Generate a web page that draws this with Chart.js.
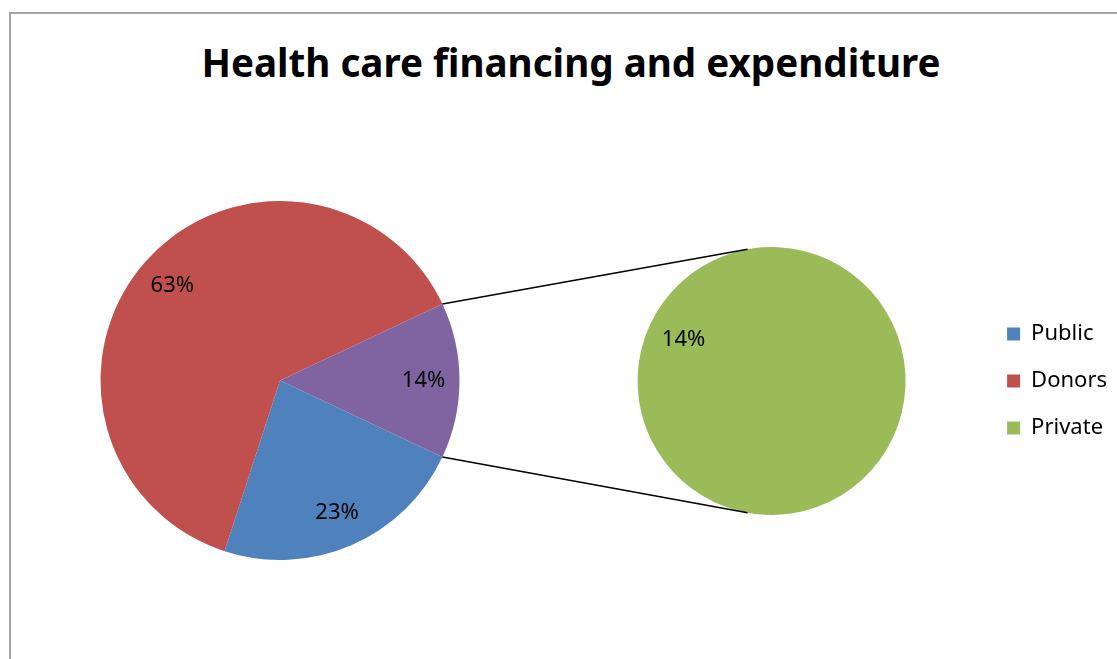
<!DOCTYPE html>
<html>
<head>
<meta charset="utf-8">
<title>Health care financing and expenditure</title>
<script src="https://cdn.jsdelivr.net/npm/chart.js@4.4.0/dist/chart.umd.min.js"></script>
<style>
    html, body { margin: 0; padding: 0; background: #fff; overflow: hidden; }
    #wrap { position: relative; width: 1117px; height: 659px; }
    #frame { position: absolute; left: 9px; top: 12px; width: 1200px; height: 800px; border: 2px solid #a6a6a6; }
    #title { position: absolute; left: 0; top: 43px; width: 1142px; text-align: center;
             font: bold 38.6px/1 'Noto Sans', sans-serif; color: #000; }
    canvas { position: absolute; left: 0; top: 0; }
</style>
</head>
<body>
<div id="wrap">
    <div id="frame"></div>
    <div id="title">Health care financing and expenditure</div>
    <canvas id="main" width="1117" height="659"></canvas>
    <canvas id="split" width="1117" height="659"></canvas>
</div>
<script>
// Sources of financing (% of total)
var categories = ['Public', 'Donors', 'Private'];
var shares = [23, 63, 14];
var colours = ['#4F81BD', '#C0504D', '#9BBB59'];

// last category is broken out into the second pie
var splitCount = 1;
var otherLabel = 'Other';
var otherColour = '#8064A2';

var grandTotal = shares.reduce(function (a, b) { return a + b; }, 0);
var mainLabels = categories.slice(0, -splitCount).concat(otherLabel);
var mainValues = shares.slice(0, -splitCount).concat(
    shares.slice(-splitCount).reduce(function (a, b) { return a + b; }, 0));
var mainColours = colours.slice(0, -splitCount).concat(otherColour);
var subLabels = categories.slice(-splitCount);
var subValues = shares.slice(-splitCount);
var subColours = colours.slice(-splitCount);

var labelFont = '22px "Noto Sans", sans-serif';

// percentage of the grand total, written inside each slice
var percentLabels = {
    id: 'percentLabels',
    afterDatasetsDraw: function (chart, args, opts) {
        var ctx = chart.ctx;
        var values = chart.data.datasets[0].data;
        ctx.save();
        ctx.font = labelFont;
        ctx.fillStyle = '#000';
        ctx.textAlign = 'center';
        ctx.textBaseline = 'middle';
        chart.getDatasetMeta(0).data.forEach(function (arc, i) {
            var p = arc.getProps(['x', 'y', 'startAngle', 'endAngle', 'outerRadius'], true);
            var mid = (p.startAngle + p.endAngle) / 2;
            var r = p.outerRadius * opts.radius;
            var text = Math.round(values[i] / grandTotal * 100) + '%';
            ctx.fillText(text, p.x + Math.cos(mid) * r, p.y + Math.sin(mid) * r);
        });
        ctx.restore();
    }
};

var pieOptions = {
    responsive: false,
    animation: false,
    events: [],
    rotation: 115.2,
    borderWidth: 0,
    hoverOffset: 0
};

var mainChart = new Chart(document.getElementById('main'), {
    type: 'pie',
    data: {
        labels: mainLabels,
        datasets: [{
            data: mainValues,
            backgroundColor: mainColours
        }]
    },
    options: Object.assign({}, pieOptions, {
        layout: { padding: { left: 100, right: 657, top: 201, bottom: 99 } },
        plugins: {
            legend: { display: false },
            tooltip: { enabled: false },
            percentLabels: { radius: 0.8 }
        }
    }),
    plugins: [percentLabels]
});

// lines joining the "Other" slice to the second pie
var connectors = {
    id: 'connectors',
    afterDatasetsDraw: function (chart, args, opts) {
        var ctx = chart.ctx;
        var other = mainChart.getDatasetMeta(0).data[mainValues.length - 1]
            .getProps(['x', 'y', 'startAngle', 'endAngle', 'outerRadius'], true);
        var sub = chart.getDatasetMeta(0).data[0].getProps(['x', 'y', 'outerRadius'], true);
        var from = [other.startAngle, other.endAngle];
        var to = [-Math.PI / 2 - opts.tilt, Math.PI / 2 + opts.tilt];
        ctx.save();
        ctx.strokeStyle = '#000';
        ctx.lineWidth = 1.5;
        ctx.beginPath();
        for (var i = 0; i < 2; i++) {
            ctx.moveTo(other.x + Math.cos(from[i]) * other.outerRadius,
                       other.y + Math.sin(from[i]) * other.outerRadius);
            ctx.lineTo(sub.x + Math.cos(to[i]) * sub.outerRadius,
                       sub.y + Math.sin(to[i]) * sub.outerRadius);
        }
        ctx.stroke();
        ctx.restore();
    }
};

var splitChart = new Chart(document.getElementById('split'), {
    type: 'pie',
    data: {
        labels: subLabels,
        datasets: [{
            data: subValues,
            backgroundColor: subColours
        }]
    },
    options: Object.assign({}, pieOptions, {
        layout: { padding: { left: 561, right: 0, top: 247, bottom: 144 } },
        plugins: {
            legend: {
                position: 'right',
                labels: {
                    color: '#000',
                    font: { family: 'Noto Sans', size: 22 },
                    boxWidth: 13,
                    boxHeight: 13,
                    padding: 25,
                    generateLabels: function () {
                        return categories.map(function (c, i) {
                            return { text: c, fillStyle: colours[i], strokeStyle: colours[i],
                                     lineWidth: 0, hidden: false, index: i };
                        });
                    }
                }
            },
            tooltip: { enabled: false },
            percentLabels: { radius: 0.726 },
            connectors: { tilt: 0.18 }
        }
    }),
    plugins: [percentLabels, connectors]
});
</script>
</body>
</html>
